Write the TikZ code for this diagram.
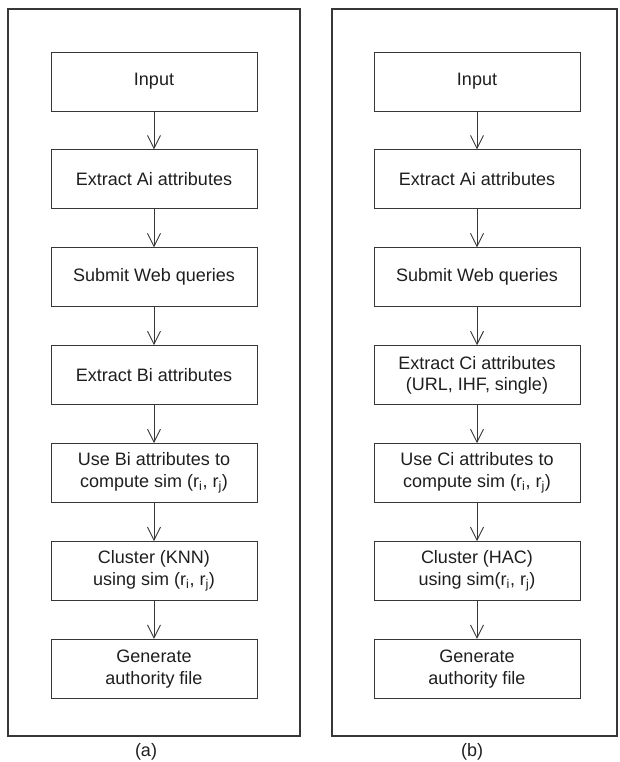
\documentclass[tikz,border=0pt]{standalone}
\usepackage{fontspec}
\setmainfont{Liberation Sans}
\usetikzlibrary{arrows.meta,positioning}
\definecolor{linegray}{RGB}{55,55,55}
\definecolor{textgray}{RGB}{30,30,30}

\begin{document}
\begin{tikzpicture}[
  x=1pt, y=1pt,
  every node/.append style={font=\fontsize{18}{21.5}\selectfont, text=textgray},
  stage/.style={draw=linegray, line width=0.9pt, minimum width=206pt,
    minimum height=59pt, align=center, inner sep=0pt},
  flow/.style={draw=linegray, line width=0.9pt,
    -{Straight Barb[length=13pt, width=13pt, line width=0.9pt]}},
  panel/.style={draw=linegray, line width=1.2pt},
  node distance=38pt,
]
\useasboundingbox (0,0) rectangle (619,762);

% ---------- left panel (a) ----------
\draw[panel] (8,26) rectangle (300,753);
\node[stage] (a1) at (154,680.5) {Input};
\node[stage, below=of a1] (a2) {Extract Ai attributes};
\node[stage, below=of a2] (a3) {Submit Web queries};
\node[stage, below=of a3] (a4) {Extract Bi attributes};
\node[stage, below=of a4] (a5) {Use Bi attributes to\\compute sim (r\textsubscript{i}, r\textsubscript{j})};
\node[stage, below=of a5] (a6) {Cluster (KNN)\\using sim (r\textsubscript{i}, r\textsubscript{j})};
\node[stage, below=of a6] (a7) {Generate\\authority file};
\foreach \i [remember=\i as \last (initially 1)] in {2,...,7}
  \draw[flow] (a\last) -- (a\i);
\node (capa) at (146,10) {(a)};

% ---------- right panel (b) ----------
\draw[panel] (332,26) rectangle (617,753);
\node[stage] (b1) at (477,680.5) {Input};
\node[stage, below=of b1] (b2) {Extract Ai attributes};
\node[stage, below=of b2] (b3) {Submit Web queries};
\node[stage, below=of b3] (b4) {Extract Ci attributes\\(URL, IHF, single)};
\node[stage, below=of b4] (b5) {Use Ci attributes to\\compute sim (r\textsubscript{i}, r\textsubscript{j})};
\node[stage, below=of b5] (b6) {Cluster (HAC)\\using sim(r\textsubscript{i}, r\textsubscript{j})};
\node[stage, below=of b6] (b7) {Generate\\authority file};
\foreach \i [remember=\i as \last (initially 1)] in {2,...,7}
  \draw[flow] (b\last) -- (b\i);
\node (capb) at (472,10) {(b)};

\end{tikzpicture}
\end{document}
